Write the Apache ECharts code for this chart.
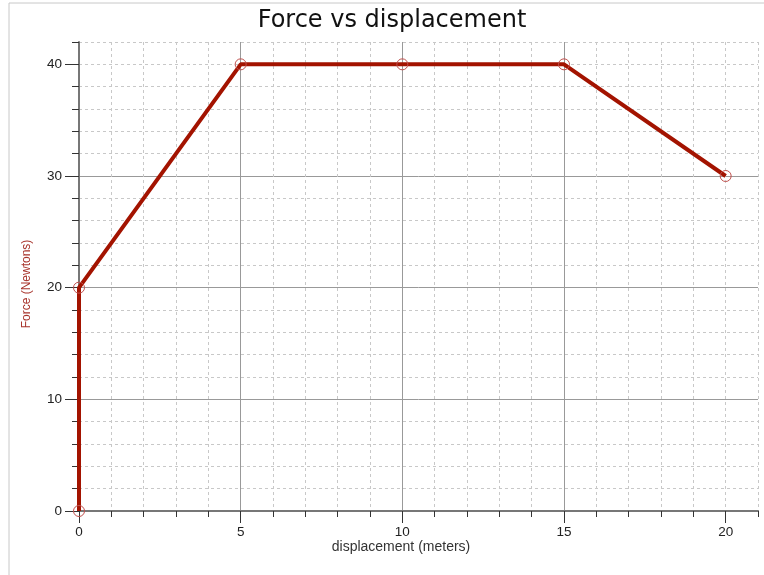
<!DOCTYPE html>
<html>
<head>
<meta charset="utf-8">
<script src="https://cdn.jsdelivr.net/npm/echarts@6/dist/echarts.min.js"></script>
<style>html,body{margin:0;padding:0;background:#fff;}#c{width:764px;height:575px;}</style>
</head>
<body>
<div id="c"></div>
<script>
// Data
var displacement = [0, 0, 5, 10, 15, 20];
var force = [0, 20, 40, 40, 40, 30];
var xMajorTicks = [0, 5, 10, 15, 20];
var yMajorTicks = [0, 10, 20, 30, 40];
var titleText = 'Force vs displacement';
var xName = 'displacement (meters)';
var yName = 'Force (Newtons)';

var points = displacement.map(function (x, i) { return [x, force[i]]; });
var chart = echarts.init(document.getElementById('c'), null, {renderer: 'canvas'});
var labelFont = {fontFamily: 'Liberation Sans, Arial, sans-serif', fontSize: 13.5, color: '#222'};
var option = {
  animation: false,
  backgroundColor: '#fff',
  grid: {left: 79, top: 42, right: 6, bottom: 64, containLabel: false},
  xAxis: [
    {type: 'value', min: 0, max: 21, interval: 1, position: 'bottom',
     axisLine: {show: true, onZero: false, lineStyle: {color: '#777', width: 2}},
     axisTick: {show: true, length: 6, lineStyle: {color: '#333', width: 1}},
     axisLabel: {show: false},
     splitLine: {show: true, showMinLine: false, lineStyle: {color: '#c8c8c8', width: 1, type: [3, 3]}}},
    {type: 'value', min: 0, max: 21, interval: 5, position: 'bottom',
     axisLine: {show: false, onZero: false},
     axisTick: {show: true, length: 12, customValues: xMajorTicks, lineStyle: {color: '#333', width: 1}},
     axisLabel: Object.assign({show: true, margin: 14, customValues: xMajorTicks}, labelFont),
     splitLine: {show: true, showMinLine: false, showMaxLine: false, lineStyle: {color: '#999', width: 1}}}
  ],
  yAxis: [
    {type: 'value', min: 0, max: 42, interval: 2, position: 'left',
     axisLine: {show: true, onZero: false, lineStyle: {color: '#777', width: 2}},
     axisTick: {show: true, length: 7, lineStyle: {color: '#333', width: 1}},
     axisLabel: {show: false},
     splitLine: {show: true, showMinLine: false, lineStyle: {color: '#c8c8c8', width: 1, type: [3, 3]}}},
    {type: 'value', min: 0, max: 42, interval: 10, position: 'left',
     axisLine: {show: false, onZero: false},
     axisTick: {show: true, length: 14, customValues: yMajorTicks, lineStyle: {color: '#333', width: 1}},
     axisLabel: Object.assign({show: true, margin: 17, customValues: yMajorTicks}, labelFont),
     splitLine: {show: true, showMinLine: false, showMaxLine: false, lineStyle: {color: '#999', width: 1}}}
  ],
  series: [{
    type: 'line', xAxisIndex: 0, yAxisIndex: 0, data: points,
    clip: false, z: 10,
    symbol: 'circle', symbolSize: 11, showSymbol: true,
    itemStyle: {color: 'rgba(255,255,255,0)', borderColor: '#c0504d', borderWidth: 1},
    lineStyle: {color: '#a31300', width: 4},
    emphasis: {disabled: true}
  }],
  graphic: [
    {type: 'rect', z: -1, silent: true, shape: {x: 9, y: 3, width: 800, height: 620},
     style: {fill: 'none', stroke: '#c8c8c8', lineWidth: 1}},
    {type: 'text', x: 392, y: 21, style: {text: titleText, font: '24px "DejaVu Sans", Verdana, sans-serif', fill: '#111', align: 'center', verticalAlign: 'middle'}},
    {type: 'text', x: 401, y: 547, style: {text: xName, font: '14px "Liberation Sans", Arial, sans-serif', fill: '#333', align: 'center', verticalAlign: 'middle'}},
    {type: 'text', x: 27, y: 284, rotation: Math.PI / 2, style: {text: yName, font: '12px "Liberation Sans", Arial, sans-serif', fill: '#a8342c', align: 'center', verticalAlign: 'middle'}}
  ]
};
chart.setOption(option);
</script>
</body>
</html>
